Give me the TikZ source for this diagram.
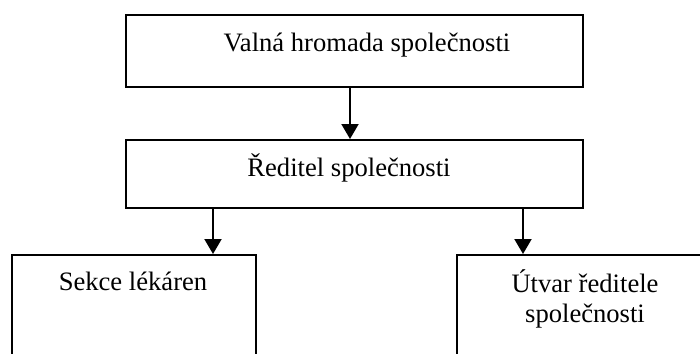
\documentclass[tikz,border=0pt]{standalone}
\usepackage{fontspec}
\setmainfont{Liberation Serif}
\usepackage{xcolor}
\usepackage{tikz}
\usetikzlibrary{positioning,arrows.meta}

\begin{document}
\begin{tikzpicture}[x=0.5pt, y=-0.5pt, >={Triangle[width=8.5pt,length=7.5pt]},
        orgbox/.style={rectangle, draw, line width=1pt, inner sep=0pt},
        boxtext/.style={font=\fontsize{13.3}{15}\selectfont, align=center, anchor=base, inner sep=0pt}]
        \useasboundingbox (0,0) rectangle (700,353);
        \clip (0,0) rectangle (700,353);

        \node[orgbox, minimum width=228.5pt, minimum height=36pt] (meeting) at (354.5,51) {};
        \node[orgbox, minimum width=228.5pt, minimum height=34pt] (director) at (354.5,174) {};
        \node[orgbox, minimum width=122pt, minimum height=72.5pt] (pharmacies) at (134,327.5) {};
        \node[orgbox, minimum width=151.5pt, minimum height=72.5pt] (office) at (608.5,327.5) {};

        \node[boxtext] (meetingtext) at (367,52) {Valná hromada společnosti};
        \node[boxtext] (directortext) at (349,176) {Ředitel společnosti};
        \node[boxtext] (pharmaciestext) at (133,290) {Sekce lékáren};
        \node[boxtext] (officetext) at (585,322) {Útvar ředitele\\společnosti};

        \draw[->, line width=1pt] ([xshift=-2.25pt]meeting.south) -- ([xshift=-2.25pt]director.north);
        \draw[->, line width=1pt] (director.south -| 213,0) -- (pharmacies.north -| 213,0);
        \draw[->, line width=1pt] (director.south -| 523,0) -- (office.north -| 523,0);
    \end{tikzpicture}
\end{document}
